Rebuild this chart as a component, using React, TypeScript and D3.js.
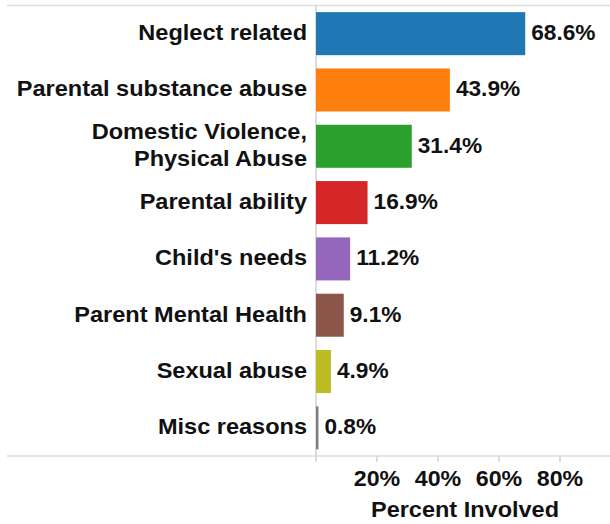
import React from "react";
import * as d3 from "d3";

const categories: string[][] = [
  ["Neglect related"],
  ["Parental substance abuse"],
  ["Domestic Violence,", "Physical Abuse"],
  ["Parental ability"],
  ["Child's needs"],
  ["Parent Mental Health"],
  ["Sexual abuse"],
  ["Misc reasons"],
];
const values = [68.6, 43.9, 31.4, 16.9, 11.2, 9.1, 4.9, 0.8];
const colors = ["#1f77b4", "#ff7f0e", "#2ca02c", "#d62728", "#9467bd", "#8c564b", "#bcbd22", "#7f7f7f"];
const tickValues = [20, 40, 60, 80];
const axisTitle = "Percent Involved";

const W = 610;
const H = 524;
const x0 = 316;
const top = 5.5;
const bottom = 456;
const FONT = "'Liberation Sans', Arial, sans-serif";

function T(props: {
  x: number;
  y: number;
  sx: number;
  anchor?: string;
  size: number;
  dy?: string;
  children: React.ReactNode;
}) {
  return (
    <text
      transform={`translate(${props.x},${props.y}) scale(${props.sx},1)`}
      dy={props.dy}
      textAnchor={props.anchor || "start"}
      fontSize={props.size}
      fill="#111"
    >
      {props.children}
    </text>
  );
}

export default function App() {
  const x = d3.scaleLinear().domain([0, 20]).range([x0, x0 + 61]);
  const y = d3
    .scaleBand<number>()
    .domain(d3.range(values.length))
    .range([top, bottom])
    .paddingInner(0.236)
    .paddingOuter(0.118);
  const fs = 22;
  return (
    <svg
      width={W}
      height={H}
      style={{ position: "absolute", left: 0, top: 0, background: "#fff" }}
      fontFamily={FONT}
      fontWeight="bold"
    >
      <line x1={7} x2={W} y1={top} y2={top} stroke="#dddddd" strokeWidth={1.5} />
      <line x1={7} x2={W} y1={bottom} y2={bottom} stroke="#dddddd" strokeWidth={1.5} />
      <line x1={x0} x2={x0} y1={top} y2={bottom + 6} stroke="#d2d2d2" strokeWidth={1.5} />
      {values.map((v, i) => {
        const by = y(i)!;
        const bw = y.bandwidth();
        const cy = by + bw / 2 - 1.5;
        const lines = categories[i];
        return (
          <g key={i}>
            <rect x={x(0)} y={by} width={x(v) - x(0)} height={bw} fill={colors[i]} />
            {lines.map((ln, j) => (
              <T
                key={j}
                x={307}
                y={cy + (j - (lines.length - 1) / 2) * 27}
                dy="0.36em"
                anchor="end"
                size={fs}
                sx={1.07}
              >
                {ln}
              </T>
            ))}
            <T x={x(v) + 6} y={cy} dy="0.36em" size={fs} sx={1.03}>
              {v.toFixed(1)}%
            </T>
          </g>
        );
      })}
      {tickValues.map((t) => (
        <g key={t}>
          <line x1={x(t)} x2={x(t)} y1={bottom} y2={bottom + 6} stroke="#d2d2d2" strokeWidth={1.5} />
          <T x={x(t)} y={486} anchor="middle" size={21.5} sx={1.08}>
            {t}%
          </T>
        </g>
      ))}
      <T x={465} y={517} anchor="middle" size={22.5} sx={1.045}>
        {axisTitle}
      </T>
    </svg>
  );
}
